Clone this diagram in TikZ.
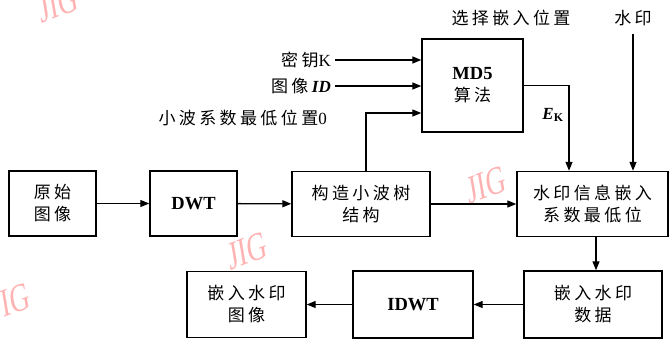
\documentclass[tikz,border=0pt]{standalone}
\usepackage{fontspec}
\setmainfont{Liberation Serif}
\newfontfamily\cjk[LetterSpace=20]{Noto Sans CJK SC}
\usetikzlibrary{arrows.meta}
\tikzset{
  box/.style={draw, line width=1.4pt, align=center, inner sep=0pt,
    font=\fontsize{17}{22}\selectfont},
  lat/.style={font=\fontsize{18.5}{22}\selectfont\bfseries},
  lbl/.style={inner sep=0pt, font=\fontsize{17}{22}\selectfont},
  arr/.style={line width=1.3pt, -{Triangle[length=9pt,width=7pt]}},
  wmk/.style={text=red!30, font=\fontsize{40}{40}\selectfont, inner sep=0pt, xscale=0.68, rotate=14}
}
\begin{document}
\begin{tikzpicture}[x=1pt,y=-1pt]
\useasboundingbox (0,0) rectangle (671,341);
% watermarks
\node[wmk] (w1) at (58,4) {JIG};
\node[wmk] (w2) at (486,185) {JIG};
\node[wmk] (w3) at (247,251) {JIG};
\node[wmk] (w4) at (10,302) {JIG};
% boxes
\node[box, minimum width=87pt, minimum height=65pt] (orig) at (52.5,203.5) {\cjk 原始\\\cjk 图像};
\node[box, lat, minimum width=87pt, minimum height=65pt] (dwt) at (193.5,203.5) {DWT};
\node[box, minimum width=138pt, minimum height=65pt] (tree) at (361,204) {\cjk 构造小波树\\\cjk 结构};
\node[box, minimum width=151pt, minimum height=65pt] (embed) at (592.5,204) {\cjk 水印信息嵌入\\\cjk 系数最低位};
\node[box, minimum width=138pt, minimum height=67pt] (data) at (593,304.5) {\cjk 嵌入水印\\\cjk 数据};
\node[box, lat, minimum width=120pt, minimum height=67pt] (idwt) at (413,304.5) {IDWT};
\node[box, minimum width=119pt, minimum height=66pt] (out) at (246.5,304.5) {\cjk 嵌入水印\\\cjk 图像};
\node[box, minimum width=101pt, minimum height=93pt] (md5) at (472.5,85.5) {{\fontsize{18.5}{22}\selectfont\bfseries MD5}\\\cjk 算法};
% labels
\node[lbl, anchor=east] (key) at (331,60) {{\cjk 密钥}K};
\node[lbl, anchor=east] (iid) at (331,86) {{\cjk 图像}\textbf{\textit{ID}}};
\node[lbl, anchor=east] (zero) at (327,118) {{\cjk 小波系数最低位置}0};
\node[lbl] (sel) at (511,18) {\cjk 选择嵌入位置};
\node[lbl] (wm) at (633,18) {\cjk 水印};
\node[lbl] (ek) at (553,115) {\textbf{\textit{E}}\textsubscript{\textbf{K}}};
% connectors
\draw[arr] (orig) -- (dwt);
\draw[arr] (dwt) -- (tree);
\draw[arr] (tree) -- (embed);
\draw[arr] ([xshift=3.5pt]embed.south) -- ([xshift=3pt]data.north);
\draw[arr] (data) -- (idwt);
\draw[arr] (idwt) -- (out);
\draw[arr] ([xshift=4pt]key.east) -- (key.east -| md5.west);
\draw[arr] ([xshift=4pt]iid.east) -- (iid.east -| md5.west);
\draw[arr] ([xshift=5pt]tree.north) |- ([yshift=-27.5pt]md5.west);
\draw[arr] (md5.east) -| ([xshift=-23.5pt]embed.north);
\draw[arr] ([yshift=-8pt]wm.south) -- (wm.south |- embed.north);
\end{tikzpicture}
\end{document}
